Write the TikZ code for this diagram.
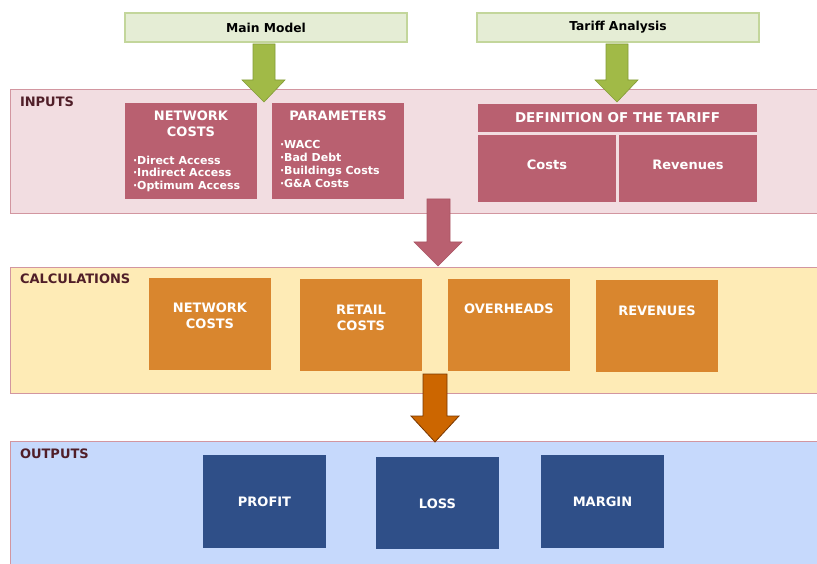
\documentclass[tikz,border=0pt]{standalone}
\usepackage{fontspec}
\setmainfont{DejaVu Sans}
\begin{document}
\begin{tikzpicture}[x=1pt,y=-1pt,
  every node/.style={inner sep=0pt,outer sep=0pt},
  topbox/.style={draw=topedge,line width=2.6pt,fill=topfill,font=\bfseries\fontsize{12.3}{13}\selectfont,text=black},
  panel/.style={draw=paneledge,line width=0.8pt},
  rosebox/.style={fill=rose},
  orbox/.style={fill=orbox},
  navybox/.style={fill=navy},
  wtitle/.style={text=white,font=\bfseries\fontsize{13}{16}\selectfont,align=center},
  wbullet/.style={text=white,font=\bfseries\fontsize{11}{12.6}\selectfont,align=left,anchor=north west},
  plabel/.style={text=plab,font=\bfseries\fontsize{13}{14}\selectfont,anchor=west},
  garrow/.style={fill=agreen,draw=agreenedge,line width=0.6pt},
  parrow/.style={fill=rose,draw=roseedge,line width=0.6pt},
  oarrow/.style={fill=aorange,draw=aorangeedge,line width=0.8pt}]
\definecolor{topedge}{RGB}{195,214,155}
\definecolor{topfill}{RGB}{229,237,213}
\definecolor{paneledge}{RGB}{210,150,160}
\definecolor{rose}{RGB}{185,96,112}
\definecolor{roseedge}{RGB}{170,85,100}
\definecolor{orbox}{RGB}{217,134,46}
\definecolor{navy}{RGB}{47,79,136}
\definecolor{plab}{RGB}{80,30,40}
\definecolor{agreen}{RGB}{161,186,71}
\definecolor{agreenedge}{RGB}{130,155,55}
\definecolor{aorange}{RGB}{204,102,0}
\definecolor{aorangeedge}{RGB}{120,55,0}
\definecolor{infill}{RGB}{242,221,225}
\definecolor{calcfill}{RGB}{254,235,182}
\definecolor{outfill}{RGB}{198,217,252}

\useasboundingbox (0,0) rectangle (817,564);

% top boxes
\node[topbox,minimum width=282,minimum height=29] (mm) at (266,27.5) {Main Model};
\node[topbox,minimum width=282,minimum height=29] (ta) at (618,27.5) {Tariff Analysis};

% panels
\node[panel,fill=infill,minimum width=808,minimum height=124,anchor=north west] (inp) at (10,89) {};
\node[panel,fill=calcfill,minimum width=808,minimum height=126,anchor=north west] (calc) at (10,267) {};
\node[panel,fill=outfill,minimum width=808,minimum height=125,anchor=north west] (outp) at (10,441) {};

\node[plabel] (linp) at (20,102) {INPUTS};
\node[plabel] (lcalc) at (20,279) {CALCULATIONS};
\node[plabel] (lout) at (20,454) {OUTPUTS};

% inputs boxes
\node[rosebox,minimum width=132,minimum height=96,anchor=north west] (nc) at (125,103) {};
\node[wtitle] (nct) at (191,124) {NETWORK\\COSTS};
\node[wbullet] (ncb) at (133,156) {·Direct Access\\·Indirect Access\\·Optimum Access};

\node[rosebox,minimum width=132,minimum height=96,anchor=north west] (pa) at (272,103) {};
\node[wtitle] (pat) at (338,116) {PARAMETERS};
\node[wbullet,font=\bfseries\fontsize{11}{13}\selectfont] (pab) at (280,140) {·WACC\\·Bad Debt\\·Buildings Costs\\·G\&A Costs};

\node[rosebox,minimum width=279,minimum height=28,anchor=north west] (df) at (478,104) {};
\node[wtitle,font=\bfseries\fontsize{13.5}{16}\selectfont] (dft) at (617.5,118) {DEFINITION OF THE TARIFF};
\node[rosebox,minimum width=138,minimum height=67,anchor=north west] (co) at (478,135) {};
\node[wtitle] (cot) at (547,165) {Costs};
\node[rosebox,minimum width=138,minimum height=67,anchor=north west] (re) at (619,135) {};
\node[wtitle] (ret) at (688,165) {Revenues};

% calculations boxes
\node[orbox,minimum width=122,minimum height=92,anchor=north west] (c1) at (149,278) {};
\node[wtitle] (c1t) at (210,316) {NETWORK\\COSTS};
\node[orbox,minimum width=122,minimum height=92,anchor=north west] (c2) at (300,279) {};
\node[wtitle] (c2t) at (361,317.5) {RETAIL\\COSTS};
\node[orbox,minimum width=122,minimum height=92,anchor=north west] (c3) at (448,279) {};
\node[wtitle] (c3t) at (509,309) {OVERHEADS};
\node[orbox,minimum width=122,minimum height=92,anchor=north west] (c4) at (596,280) {};
\node[wtitle] (c4t) at (657,311) {REVENUES};

% outputs boxes
\node[navybox,minimum width=123,minimum height=93,anchor=north west] (o1) at (203,455) {};
\node[wtitle] (o1t) at (264.5,502) {PROFIT};
\node[navybox,minimum width=123,minimum height=92,anchor=north west] (o2) at (376,457) {};
\node[wtitle] (o2t) at (437.5,504) {LOSS};
\node[navybox,minimum width=123,minimum height=93,anchor=north west] (o3) at (541,455) {};
\node[wtitle] (o3t) at (602.5,502) {MARGIN};

% block arrows
\draw[garrow] (253,44) -- (275,44) -- (275,80) -- (285,80) -- (264,102) -- (242,80) -- (253,80) -- cycle;
\draw[garrow] (606,44) -- (628,44) -- (628,80) -- (638,80) -- (617,102) -- (595,80) -- (606,80) -- cycle;
\draw[parrow] (427,199) -- (450,199) -- (450,242) -- (462,242) -- (438,266) -- (414,242) -- (427,242) -- cycle;
\draw[oarrow] (423,374) -- (447,374) -- (447,416) -- (459,416) -- (435,442) -- (411,416) -- (423,416) -- cycle;
\end{tikzpicture}
\end{document}
